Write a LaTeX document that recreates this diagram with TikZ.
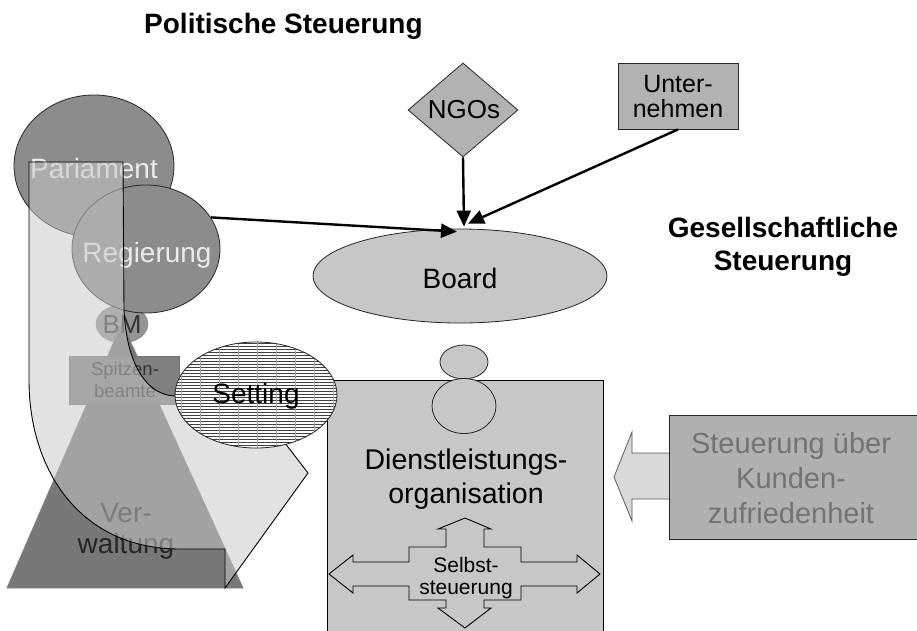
\documentclass[tikz,border=0pt]{standalone}
\usepackage{fontspec}
\setmainfont{Liberation Sans}
\usetikzlibrary{shapes.geometric,arrows.meta}
\begin{document}
\begin{tikzpicture}[x=1pt,y=-1pt,
  arr/.style={line width=2.4pt,-{Triangle[length=16pt,width=14pt]}},
  f28/.style={font=\fontsize{28}{33}\selectfont},
  f28b/.style={font=\fontsize{28}{33}\selectfont\bfseries},
  thin outline/.style={draw=black!85,line width=0.8pt},
  txt/.style={inner sep=0pt,align=center}]
\useasboundingbox (0,0) rectangle (917,630);
\fill[white] (0,0) rectangle (917,630);

% titles
\node[f28b,txt,anchor=base west] (tpol) at (144,33) {Politische Steuerung};
\node[f28b,txt] (tges) at (783,247) {Gesellschaftliche\\Steuerung};

% political side
\node[ellipse,thin outline,fill=black!45,minimum width=160,minimum height=142,inner sep=0] (parl) at (94,166) {};
\node[ellipse,draw=black!50,fill=black!42,minimum width=52,minimum height=38,inner sep=0] (bm) at (122,324) {};
\path[fill=black!53,draw=black!50,line width=0.8pt] (122,323) -- (243,588) -- (7,588) -- cycle;
\node[draw=black!55,line width=1pt,fill=black!50,minimum width=110,minimum height=48,inner sep=0,anchor=north west] (spitz) at (69,356) {};
\node[ellipse,thin outline,fill=black!45,minimum width=148,minimum height=128,inner sep=0] (reg) at (146,249) {};

\node[f28,txt,text=black!8,anchor=base] (tparl) at (94,178) {Pariament};
\node[f28,txt,text=black!8,anchor=base] (treg) at (147,262) {Regierung};
\node[txt,font=\fontsize{26}{30}\selectfont,text=black!80,anchor=base] (tbm) at (122,333) {BM};
\node[txt,font=\fontsize{18.5}{22}\selectfont,text=black!80] (tspitz) at (125,380) {Spitzen-\\beamte};
\node[txt,font=\fontsize{28}{31}\selectfont,text=black!85] (tverw) at (126,531) {Ver-\\waltung};

% big curved arrow (semi transparent)
\path[fill=black!21,fill opacity=0.53,draw=black,line width=0.9pt]
  (29,162) -- (123,162) -- (124,310) .. controls (127,370) and (150,396) .. (176,396)
  -- (268,421) -- (308,473) -- (225,588) -- (225,549) -- (180,549)
  .. controls (80,549) and (29,470) .. (29,380) -- cycle;

% service organisation
\node[draw=black,line width=0.9pt,fill=black!22,minimum width=276,minimum height=270,inner sep=0,anchor=north west] (dl) at (327,380) {};
\node[ellipse,thin outline,fill=black!22,minimum width=48,minimum height=34,inner sep=0] (head) at (464,362) {};
\node[ellipse,thin outline,fill=black!22,minimum width=64,minimum height=55,inner sep=0] (body) at (464,406) {};
\node[txt,font=\fontsize{28.5}{34}\selectfont] (tdl) at (466,479) {Dienstleistungs-\\organisation};

\path[draw=black,line width=0.9pt,fill=black!22]
  (465,518) -- (491,529) -- (484,529) -- (484,547) -- (521,547) -- (521,562)
  -- (577,562) -- (577,555) -- (600,574) -- (577,593) -- (577,586) -- (521,586)
  -- (521,600) -- (484,600) -- (484,608) -- (491,608) -- (465,628) -- (438,608)
  -- (446,608) -- (446,600) -- (409,600) -- (409,586) -- (353,586) -- (353,593)
  -- (329,574) -- (353,555) -- (353,562) -- (409,562) -- (409,547) -- (446,547)
  -- (446,529) -- (438,529) -- cycle;
\node[txt,font=\fontsize{21}{22}\selectfont] (tself) at (466,578) {Selbst-\\steuerung};

% Setting (on top of the service organisation)
\fill[white] (256,395) ellipse [x radius=81,y radius=53];
\begin{scope}
\clip (256,395) ellipse [x radius=81,y radius=53];
\foreach \yy in {343,346,...,448} \draw[black!75,line width=0.6pt] (170,\yy) -- (340,\yy);
\foreach \xx in {181,200,...,335} \draw[black!35,line width=0.4pt] (\xx,340) -- (\xx,450);
\end{scope}
\node[ellipse,thin outline,minimum width=162,minimum height=106,inner sep=0] (set) at (256,395) {};
\node[f28,txt,anchor=base] (tset) at (256,403) {Setting};

% societal side
\node[diamond,thin outline,fill=black!30,minimum width=110,minimum height=94,inner sep=0] (ngo) at (463,110) {};
\node[txt,font=\fontsize{26}{30}\selectfont,anchor=base] (tngo) at (464,118) {NGOs};
\node[thin outline,fill=black!30,minimum width=120,minimum height=66,inner sep=0] (unt) at (678,96) {};
\node[txt,font=\fontsize{25}{25}\selectfont] (tunt) at (678,97) {Unter-\\nehmen};
\node[ellipse,thin outline,fill=black!22,minimum width=294,minimum height=94,inner sep=0] (board) at (460,276) {};
\node[f28,txt,anchor=base] (tboard) at (460,288) {Board};

\draw[arr] (reg.26) -- ([shift={(-3,3)}]board.north);
\draw[arr] (ngo.south) -- ([shift={(4,-2)}]board.north);
\draw[arr] (unt.south) -- ([shift={(8,-5)}]board.north);

% customer satisfaction
\path[draw=black!65,line width=0.8pt,fill=black!15]
  (669,453) -- (632,453) -- (632,432) -- (614,477) -- (632,521) -- (632,499) -- (669,499);
\node[draw=black!85,line width=0.9pt,fill=black!31,minimum width=262,minimum height=124,inner sep=0,anchor=north west] (kd) at (669,415) {};
\node[txt,font=\fontsize{29}{35}\selectfont,text=black!55] (tkd) at (791,478) {Steuerung über\\Kunden-\\zufriedenheit};
\end{tikzpicture}
\end{document}
